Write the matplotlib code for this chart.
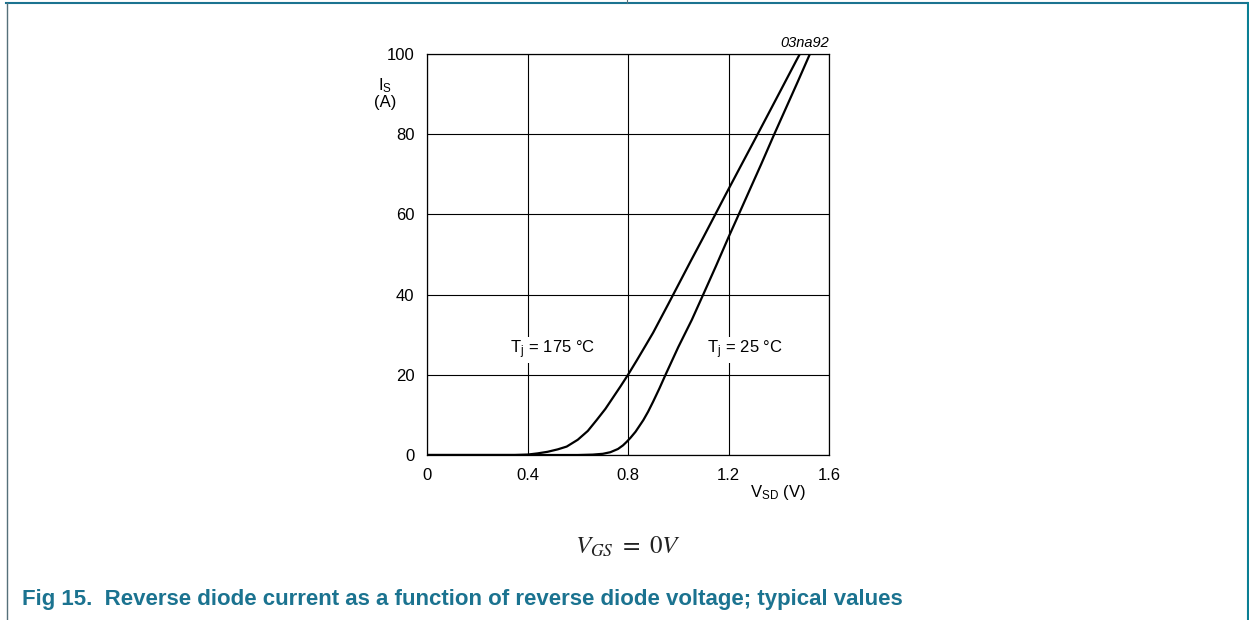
import matplotlib
matplotlib.use("Agg")
import matplotlib.pyplot as plt
from matplotlib.lines import Line2D

plt.rcParams['font.family'] = ['Liberation Sans', 'DejaVu Sans']
plt.rcParams['mathtext.fontset'] = 'stix'

# Tj = 175 C curve (V_SD in V, I_S in A)
v_175 = [0, 0.35, 0.40, 0.44, 0.48, 0.52, 0.556, 0.6, 0.64, 0.675, 0.71, 0.74, 0.77, 0.8, 0.835, 0.87, 0.9, 0.927,
         0.96, 1.0, 1.05, 1.1, 1.135, 1.19, 1.25, 1.3, 1.358, 1.41, 1.471]
i_175 = [0, 0, 0.1, 0.4, 0.8, 1.4, 2.1, 3.8, 6.0, 8.7, 11.5, 14.3, 17.1, 20, 23.6, 27.3, 30.5, 33.7,
         37.6, 42.4, 48.4, 54.3, 58.5, 65.1, 72.2, 78.1, 85, 91.2, 98.5]
v_175.append(1.484)
i_175.append(100)

# Tj = 25 C curve
v_25 = [0, 0.6, 0.66, 0.70, 0.73, 0.76, 0.78, 0.795, 0.81, 0.83, 0.845, 0.861, 0.88, 0.9, 0.925, 0.95, 1.0, 1.054,
        1.1, 1.15, 1.2, 1.238, 1.29, 1.33, 1.38, 1.425, 1.475, 1.524]
i_25 = [0, 0, 0.1, 0.3, 0.7, 1.5, 2.4, 3.3, 4.3, 5.8, 7.2, 8.7, 10.8, 13.3, 16.6, 20.1, 26.9, 33.7,
        40.1, 47.1, 54.3, 59.6, 66.9, 72.5, 79.7, 86, 93, 100]

x_ticks = [0, 0.4, 0.8, 1.2, 1.6]
x_labels = ['0', '0.4', '0.8', '1.2', '1.6']
y_ticks = [0, 20, 40, 60, 80, 100]

W, H = 1249, 620
fig = plt.figure(figsize=(W / 100, H / 100), dpi=100)
ax = fig.add_axes([427 / W, 1 - 455 / H, 402 / W, 401 / H])

ax.plot(v_175, i_175, color='black', lw=1.6, solid_capstyle='round')
ax.plot(v_25, i_25, color='black', lw=1.6, solid_capstyle='round')

ax.set_xlim(0, 1.6)
ax.set_ylim(0, 100)
ax.set_xticks(x_ticks)
ax.set_xticklabels(x_labels)
ax.set_yticks(y_ticks)
ax.grid(True, color='black', lw=0.8)
ax.tick_params(length=0, labelsize=12, pad=9)
for s in ax.spines.values():
    s.set_linewidth(0.9)

box = dict(facecolor='white', edgecolor='none', pad=1.5)
ax.text(0.50, 26.2, r'T$_\mathregular{j}$ = 175 °C', ha='center', va='center', fontsize=12, bbox=box)
ax.text(1.266, 26.2, r'T$_\mathregular{j}$ = 25 °C', ha='center', va='center', fontsize=12, bbox=box)

# labels outside the axes
fig.text(385 / W, 1 - 86 / H, r'I$_\mathregular{S}$', ha='center', va='center', fontsize=12)
fig.text(385 / W, 1 - 103 / H, '(A)', ha='center', va='center', fontsize=12)
fig.text(778 / W, 1 - 493 / H, r'V$_\mathregular{SD}$ (V)', ha='center', va='center', fontsize=12)
fig.text(829 / W, 1 - 43 / H, '03na92', ha='right', va='center', fontsize=10.5, style='italic')

fig.text(628 / W, 1 - 547 / H, r'$V_{GS}\ =\ 0V$', ha='center', va='center', fontsize=18, color='#222222')

teal = '#1b7390'
fig.text(22 / W, 1 - 600 / H, 'Fig 15.  Reverse diode current as a function of reverse diode voltage; typical values',
         ha='left', va='center', fontsize=16, fontweight='bold', color=teal)

# page frame
fig.add_artist(Line2D([6 / W, 1247 / W], [1 - 3 / H, 1 - 3 / H], color=teal, lw=1.5, transform=fig.transFigure))
fig.add_artist(Line2D([7 / W, 7 / W], [0, 1 - 3 / H], color='#55707a', lw=1.0, transform=fig.transFigure))
fig.add_artist(Line2D([1247.5 / W, 1247.5 / W], [0, 1 - 3 / H], color='#0a7f94', lw=1.5, transform=fig.transFigure))
fig.add_artist(Line2D([627.5 / W, 627.5 / W], [1 - 3 / H, 1], color='#55707a', lw=0.8, transform=fig.transFigure))

fig.savefig('out.png', dpi=100)
